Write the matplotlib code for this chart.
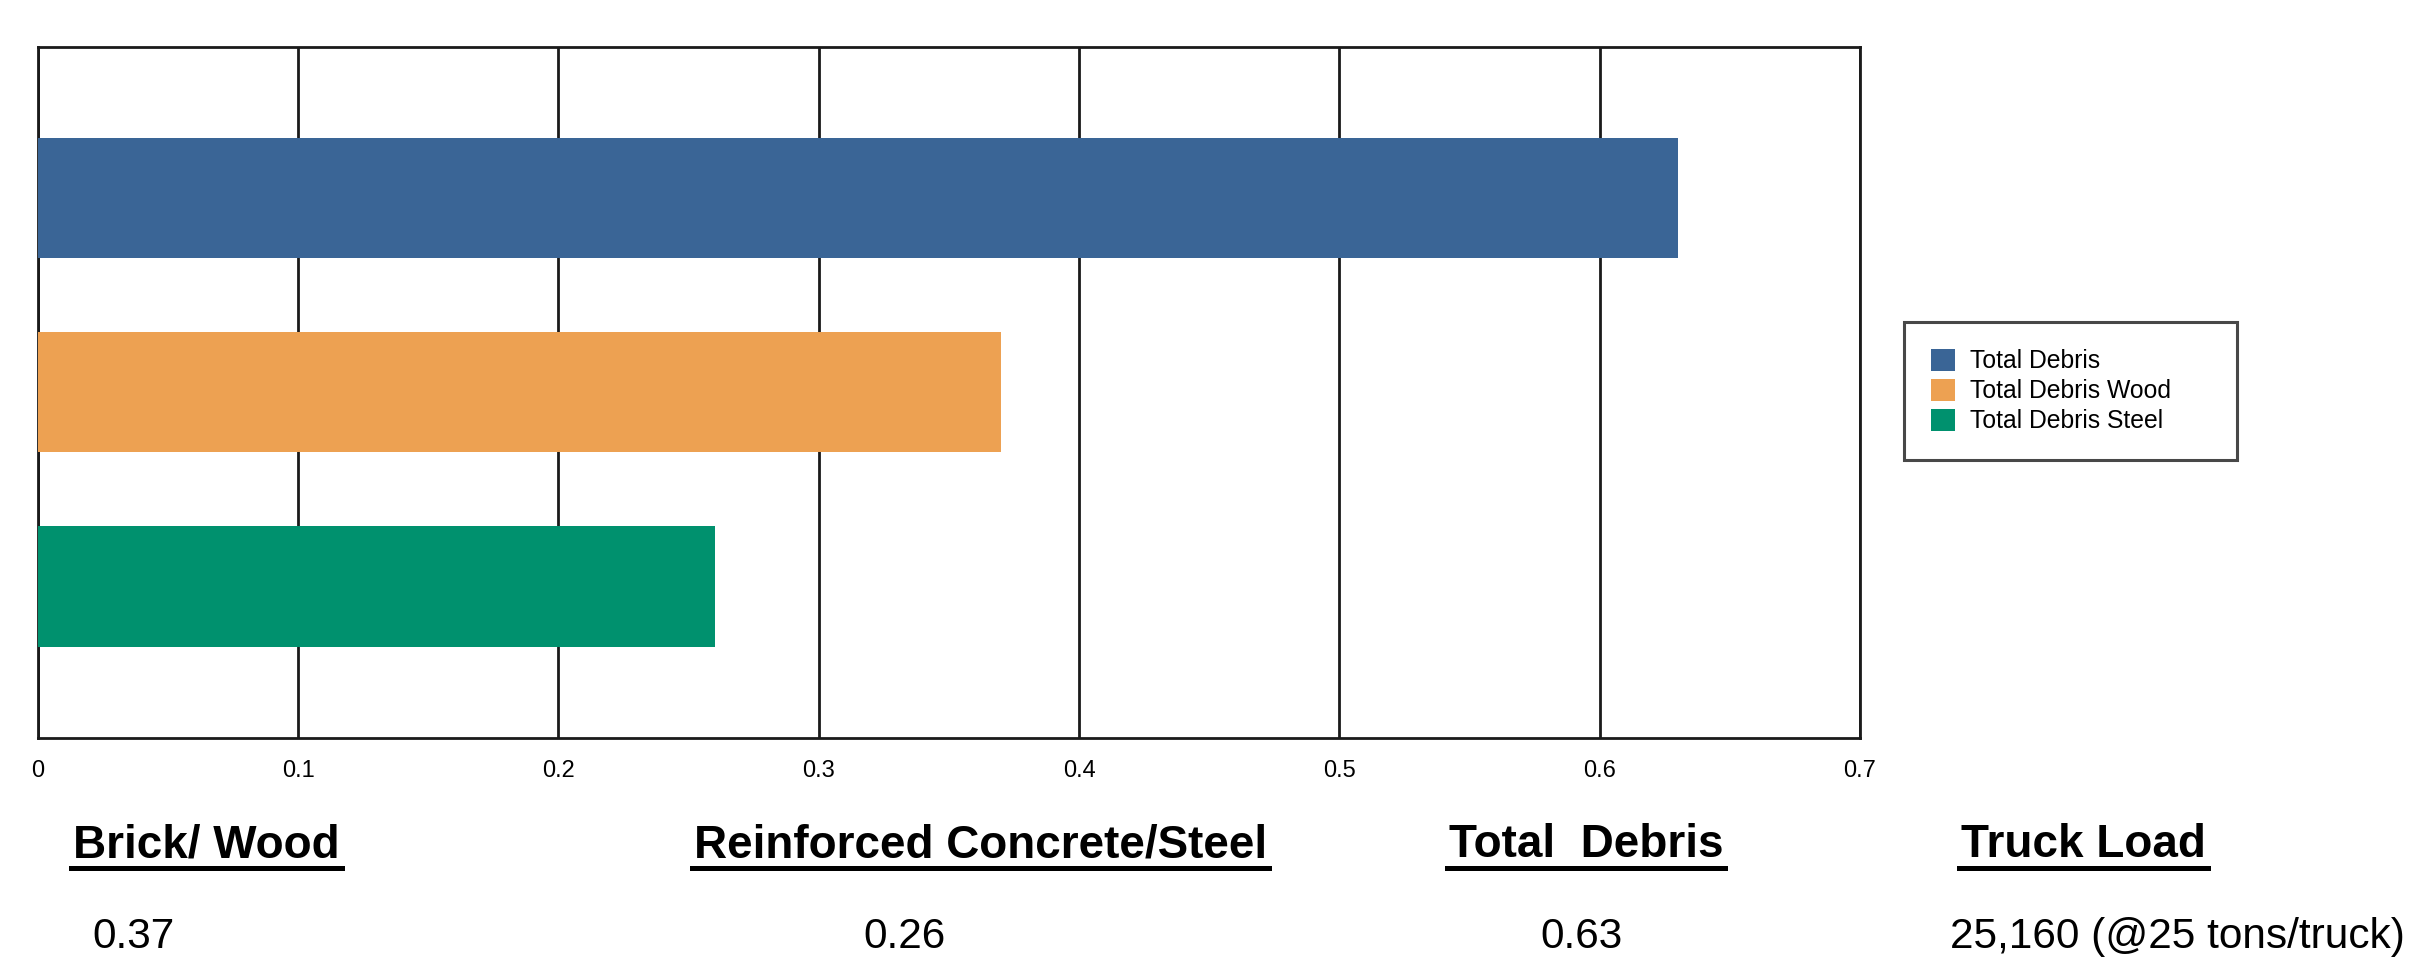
import matplotlib.pyplot as plt
from matplotlib.lines import Line2D

# debris estimate (million tons)
series = ["Total Debris", "Total Debris Wood", "Total Debris Steel"]
values = [0.63, 0.37, 0.26]
colors = ["#3A6596", "#EDA152", "#00916E"]
ticks = [0, 0.1, 0.2, 0.3, 0.4, 0.5, 0.6, 0.7]
tick_labels = ["0", "0.1", "0.2", "0.3", "0.4", "0.5", "0.6", "0.7"]

headers = ["Brick/ Wood", "Reinforced Concrete/Steel", "Total  Debris", "Truck Load"]
summary = ["0.37", "0.26", "0.63", "25,160 (@25 tons/truck)"]
header_x = [73, 694, 1449, 1961]
summary_x = [92, 863, 1540, 1950]

W, H = 2424, 959
fig = plt.figure(figsize=(W / 100, H / 100), dpi=100)
ax = fig.add_axes([37.7 / W, 1 - 737.7 / H, (1860 - 37.7) / W, (737.7 - 47) / H])

pos = list(range(len(values)))
bars = ax.barh(pos, values, height=0.62, color=colors, zorder=3)
for b, name in zip(bars, series):
    b.set_label(name)

ax.set_xlim(0, 0.7)
ax.set_ylim(2.78, -0.78)
ax.set_yticks([])
ax.set_xticks(ticks)
ax.set_xticklabels(tick_labels, family=["Liberation Sans Narrow", "Liberation Sans"], fontsize=17)
ax.tick_params(axis="x", length=0, pad=16)
ax.grid(axis="x", color="#1a1a1a", linewidth=2.0, zorder=1)
ax.set_axisbelow(True)
for s in ax.spines.values():
    s.set_linewidth(2.0)
    s.set_color("#1a1a1a")
    s.set_zorder(2)

leg = fig.legend(handles=list(bars), labels=series,
                 loc="upper left",
                 bbox_to_anchor=(1904 / W, 1 - 322 / H, (2237 - 1904) / W, 0),
                 mode="expand", borderaxespad=0, fancybox=False,
                 prop={"family": "Liberation Sans", "size": 17.8},
                 handlelength=1.0, handleheight=1.0, handletextpad=0.6,
                 labelspacing=0.22, borderpad=1.08)
leg.get_frame().set_edgecolor("#1a1a1a")
leg.get_frame().set_linewidth(2.2)

fig.canvas.draw()
renderer = fig.canvas.get_renderer()
for hx, txt in zip(header_x, headers):
    t = fig.text(hx / W, 1 - 857 / H, txt, ha="left", va="baseline",
                 family="Liberation Sans", fontweight="bold", fontsize=33)
    bb = t.get_window_extent(renderer)
    fig.add_artist(Line2D([(bb.x0 - 2) / W, (bb.x1 + 2) / W],
                          [1 - 868 / H, 1 - 868 / H],
                          transform=fig.transFigure, color="black", linewidth=3.6))

for sx, txt in zip(summary_x, summary):
    fig.text(sx / W, 1 - 957 / H, txt, ha="left", va="bottom",
             family="Liberation Sans", fontsize=30.5)

fig.savefig("out.png", dpi=100)
